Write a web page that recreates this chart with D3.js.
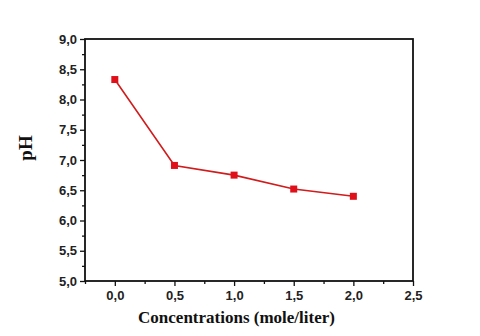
<!DOCTYPE html>
<html>
<head>
<meta charset="utf-8">
<script src="https://cdn.jsdelivr.net/npm/d3@7"></script>
<style>
  body { margin: 0; background: #fff; }
  svg { display: block; }
</style>
</head>
<body>
<svg id="chart" width="480" height="336"></svg>
<script>
// données
var concentrations = [0.0, 0.5, 1.0, 1.5, 2.0];
var phValues = [8.33, 6.91, 6.75, 6.52, 6.40];
var xTicks = [0.0, 0.5, 1.0, 1.5, 2.0, 2.5];
var yTicks = [5.0, 5.5, 6.0, 6.5, 7.0, 7.5, 8.0, 8.5, 9.0];

var svg = d3.select("#chart");
var margin = {top: 39, right: 67, bottom: 55, left: 85},
    width = 480 - margin.left - margin.right,
    height = 336 - margin.top - margin.bottom;

var xScale = d3.scaleLinear().domain([-0.25, 2.5]).range([margin.left, margin.left + width]);
var yScale = d3.scaleLinear().domain([5, 9]).range([margin.top + height, margin.top]);

var fmt = function(d){ return d3.format(".1f")(d).replace(".", ","); };

// axe abscisse (ticks majeurs + mineurs)
svg.append("g")
  .attr("transform", `translate(0, ${margin.top + height})`)
  .call(d3.axisBottom(xScale).tickValues(xTicks).tickFormat(fmt).tickSize(5).tickPadding(5));
svg.append("g")
  .attr("transform", `translate(0, ${margin.top + height})`)
  .call(d3.axisBottom(xScale).tickValues(d3.range(-0.25, 2.5, 0.5)).tickFormat("").tickSize(3));

// axe ordonnée
svg.append("g")
  .attr("transform", `translate(${margin.left}, 0)`)
  .call(d3.axisLeft(yScale).tickValues(yTicks).tickFormat(fmt).tickSize(5).tickPadding(3));
svg.append("g")
  .attr("transform", `translate(${margin.left}, 0)`)
  .call(d3.axisLeft(yScale).tickValues(d3.range(5.25, 9, 0.5)).tickFormat("").tickSize(3));

svg.selectAll(".tick line").attr("stroke", "#111").attr("stroke-width", 1.3);
svg.selectAll(".domain").remove();
svg.selectAll(".tick text")
  .style("font-family", "'Liberation Sans', Arial, sans-serif")
  .style("font-weight", "bold")
  .style("font-size", "13px")
  .attr("fill", "#222");

// cadre
svg.append("rect")
  .attr("x", margin.left)
  .attr("y", margin.top)
  .attr("width", width)
  .attr("height", height)
  .attr("fill", "none")
  .attr("stroke", "#111")
  .attr("stroke-width", 1.8);

// courbe
var line = d3.line()
  .x(function(d, i){ return xScale(concentrations[i]); })
  .y(function(d){ return yScale(d); });

svg.append("path")
  .datum(phValues)
  .attr("d", line)
  .attr("fill", "none")
  .attr("stroke", "#d01c1c")
  .attr("stroke-width", 1.6);

svg.selectAll("rect.pt")
  .data(phValues)
  .enter()
  .append("rect")
  .attr("class", "pt")
  .attr("x", function(d, i){ return xScale(concentrations[i]) - 3.5; })
  .attr("y", function(d){ return yScale(d) - 3.5; })
  .attr("width", 7)
  .attr("height", 7)
  .attr("fill", "#e0101a");

// titres des axes
svg.append("text")
  .attr("x", (138 + 335) / 2)
  .attr("y", 323)
  .style("text-anchor", "middle")
  .style("font-family", "'Liberation Serif', 'Times New Roman', serif")
  .style("font-weight", "bold")
  .style("font-size", "17px")
  .attr("fill", "#111")
  .text("Concentrations (mole/liter)");

svg.append("text")
  .attr("transform", "translate(32, 148) rotate(-90)")
  .style("text-anchor", "middle")
  .style("font-family", "'Liberation Serif', 'Times New Roman', serif")
  .style("font-weight", "bold")
  .style("font-size", "19px")
  .attr("fill", "#111")
  .text("pH");
</script>
</body>
</html>
